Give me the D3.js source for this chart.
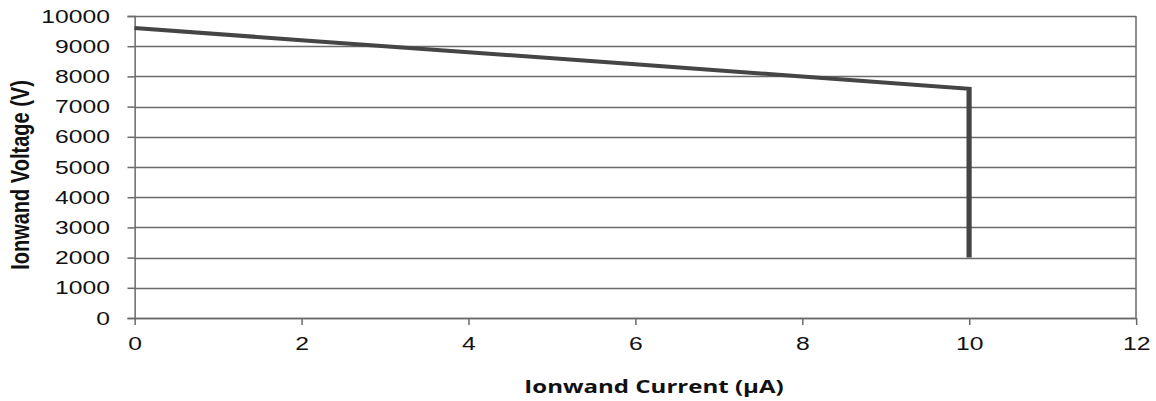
<!DOCTYPE html>
<html>
<head>
<meta charset="utf-8">
<script src="https://cdn.jsdelivr.net/npm/d3@7"></script>
<style>
html,body{margin:0;padding:0;background:#fff;}
svg{display:block;}
</style>
</head>
<body>
<svg id="chart"></svg>
<script>
// ---- data ----
const currentUA = [0, 2, 4, 6, 8, 10, 10];
const voltageV  = [9600, 9200, 8800, 8400, 8000, 7590, 2000];
const xTicks = [0, 2, 4, 6, 8, 10, 12];
const yTicks = [0, 1000, 2000, 3000, 4000, 5000, 6000, 7000, 8000, 9000, 10000];
const xTitle = "Ionwand Current (µA)";
const yTitle = "Ionwand Voltage (V)";

// ---- layout ----
const W = 1156, H = 401, SX = 1.3;
const VW = W / SX;
const svg = d3.select("#chart")
  .attr("width", W).attr("height", H)
  .attr("viewBox", `0 0 ${VW} ${H}`)
  .attr("preserveAspectRatio", "none");

const x = d3.scaleLinear().domain([0, 12]).range([134.5 / SX, 1136 / SX]);
const y = d3.scaleLinear().domain([0, 10000]).range([318, 16]);
const gridCol = "#6a6a6a";
const gridW = 1.5;

// gridlines
svg.append("g").selectAll("line").data(yTicks).join("line")
  .attr("x1", x(0)).attr("x2", x(12))
  .attr("y1", d => Math.round(y(d)) + 0.5).attr("y2", d => Math.round(y(d)) + 0.5)
  .attr("stroke", gridCol).attr("stroke-width", gridW).attr("vector-effect", "non-scaling-stroke");

// right border
svg.append("line")
  .attr("x1", x(12)).attr("x2", x(12)).attr("y1", y(10000)).attr("y2", y(0))
  .attr("stroke", gridCol).attr("stroke-width", gridW).attr("vector-effect", "non-scaling-stroke");

// y axis
const yAxis = d3.axisLeft(y).tickValues(yTicks).tickSize(7 / SX).tickPadding(0).tickFormat(d3.format("d"));
const gy = svg.append("g").attr("transform", `translate(${x(0)},0)`).call(yAxis);
gy.select(".domain").attr("stroke", gridCol).attr("stroke-width", gridW).attr("vector-effect", "non-scaling-stroke");
gy.selectAll(".tick line").attr("stroke", gridCol).attr("stroke-width", gridW).attr("vector-effect", "non-scaling-stroke");
gy.selectAll(".tick text")
  .attr("x", 110 / SX - x(0))
  .attr("font-family", "'Liberation Sans', Arial, sans-serif")
  .attr("font-size", 19).attr("fill", "#111");

// x axis
const xAxis = d3.axisBottom(x).tickValues(xTicks).tickSize(7).tickSizeOuter(0).tickPadding(0).tickFormat(d3.format("d"));
const gx = svg.append("g").attr("transform", `translate(0,${y(0)})`).call(xAxis);
gx.select(".domain").attr("stroke", gridCol).attr("stroke-width", gridW).attr("vector-effect", "non-scaling-stroke");
gx.selectAll(".tick line").attr("stroke", gridCol).attr("stroke-width", gridW).attr("vector-effect", "non-scaling-stroke");
gx.selectAll(".tick text")
  .attr("y", 32).attr("dy", "0")
  .attr("font-family", "'Liberation Sans', Arial, sans-serif")
  .attr("font-size", 19).attr("fill", "#111");

// data line
const line = d3.line().x((d, i) => x(currentUA[i])).y(d => y(d));
svg.append("path")
  .datum(voltageV)
  .attr("d", line)
  .attr("fill", "none")
  .attr("stroke", "#454545")
  .attr("stroke-width", 4)
  .attr("stroke-linejoin", "miter");

// titles
svg.append("text")
  .attr("x", 654 / SX).attr("y", 393)
  .attr("text-anchor", "middle")
  .attr("font-family", "'Open Sans', sans-serif")
  .attr("font-weight", "bold").attr("font-size", 18.5).attr("fill", "#111")
  .text(xTitle);

svg.append("text")
  .attr("transform", `translate(${20 / SX},175) rotate(-90)`)
  .attr("text-anchor", "middle").attr("dominant-baseline", "central")
  .attr("font-family", "'Liberation Sans', Arial, sans-serif")
  .attr("font-weight", "bold").attr("font-size", 20).attr("fill", "#111")
  .text(yTitle);
</script>
</body>
</html>
